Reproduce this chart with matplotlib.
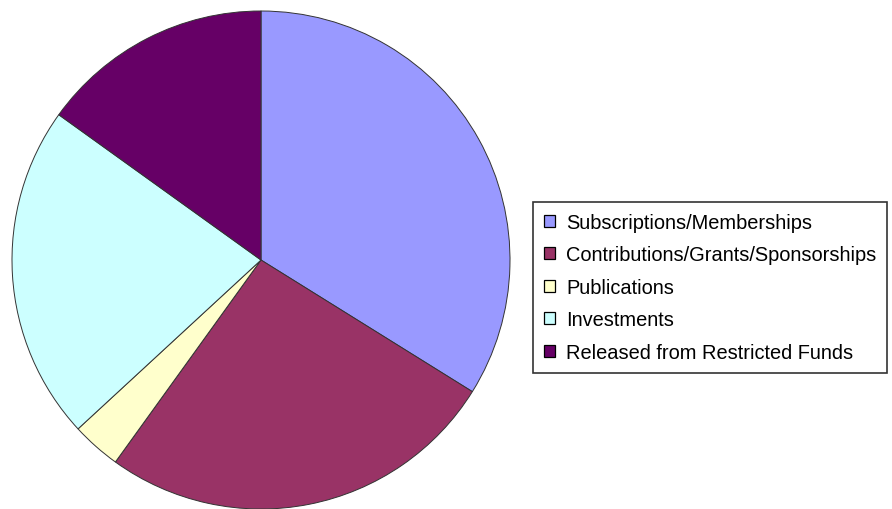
import matplotlib

matplotlib.use("Agg")
import matplotlib.pyplot as plt
from matplotlib.patches import Patch

plt.rcParams["font.family"] = ["Liberation Sans", "DejaVu Sans"]

LABELS = [
    "Subscriptions/Memberships",
    "Contributions/Grants/Sponsorships",
    "Publications",
    "Investments",
    "Released from Restricted Funds",
]
SHARES = [33.9, 26.1, 3.2, 21.8, 15.1]
COLORS = ["#9999FF", "#993366", "#FFFFCC", "#CCFFFF", "#660066"]

W, H = 892, 510
fig = plt.figure(figsize=(W / 100, H / 100), dpi=100)

# pie centre ~(261, 261) px, radius ~249 px
cx, cy, r = 261, 261, 249
ax = fig.add_axes([(cx - r) / W, (H - cy - r) / H, 2 * r / W, 2 * r / H])
ax.pie(
    SHARES,
    colors=COLORS,
    startangle=90,
    counterclock=False,
    radius=1.0,
    wedgeprops={"edgecolor": "#333333", "linewidth": 0.7},
)
ax.set_xlim(-1.0, 1.0)
ax.set_ylim(-1.0, 1.0)
ax.set_aspect("equal")
ax.axis("off")

handles = [Patch(facecolor=c, edgecolor="black", linewidth=0.9) for c in COLORS]
leg = fig.legend(
    handles,
    LABELS,
    loc="upper left",
    bbox_to_anchor=(533 / W, 1 - 203 / H),
    frameon=True,
    fancybox=False,
    edgecolor="black",
    fontsize=14.4,
    handlelength=0.55,
    handleheight=0.55,
    handletextpad=0.55,
    labelspacing=0.67,
    borderpad=0.55,
    borderaxespad=0,
)
leg.get_frame().set_linewidth(1.2)

fig.savefig("out.png", dpi=100, facecolor="white")
